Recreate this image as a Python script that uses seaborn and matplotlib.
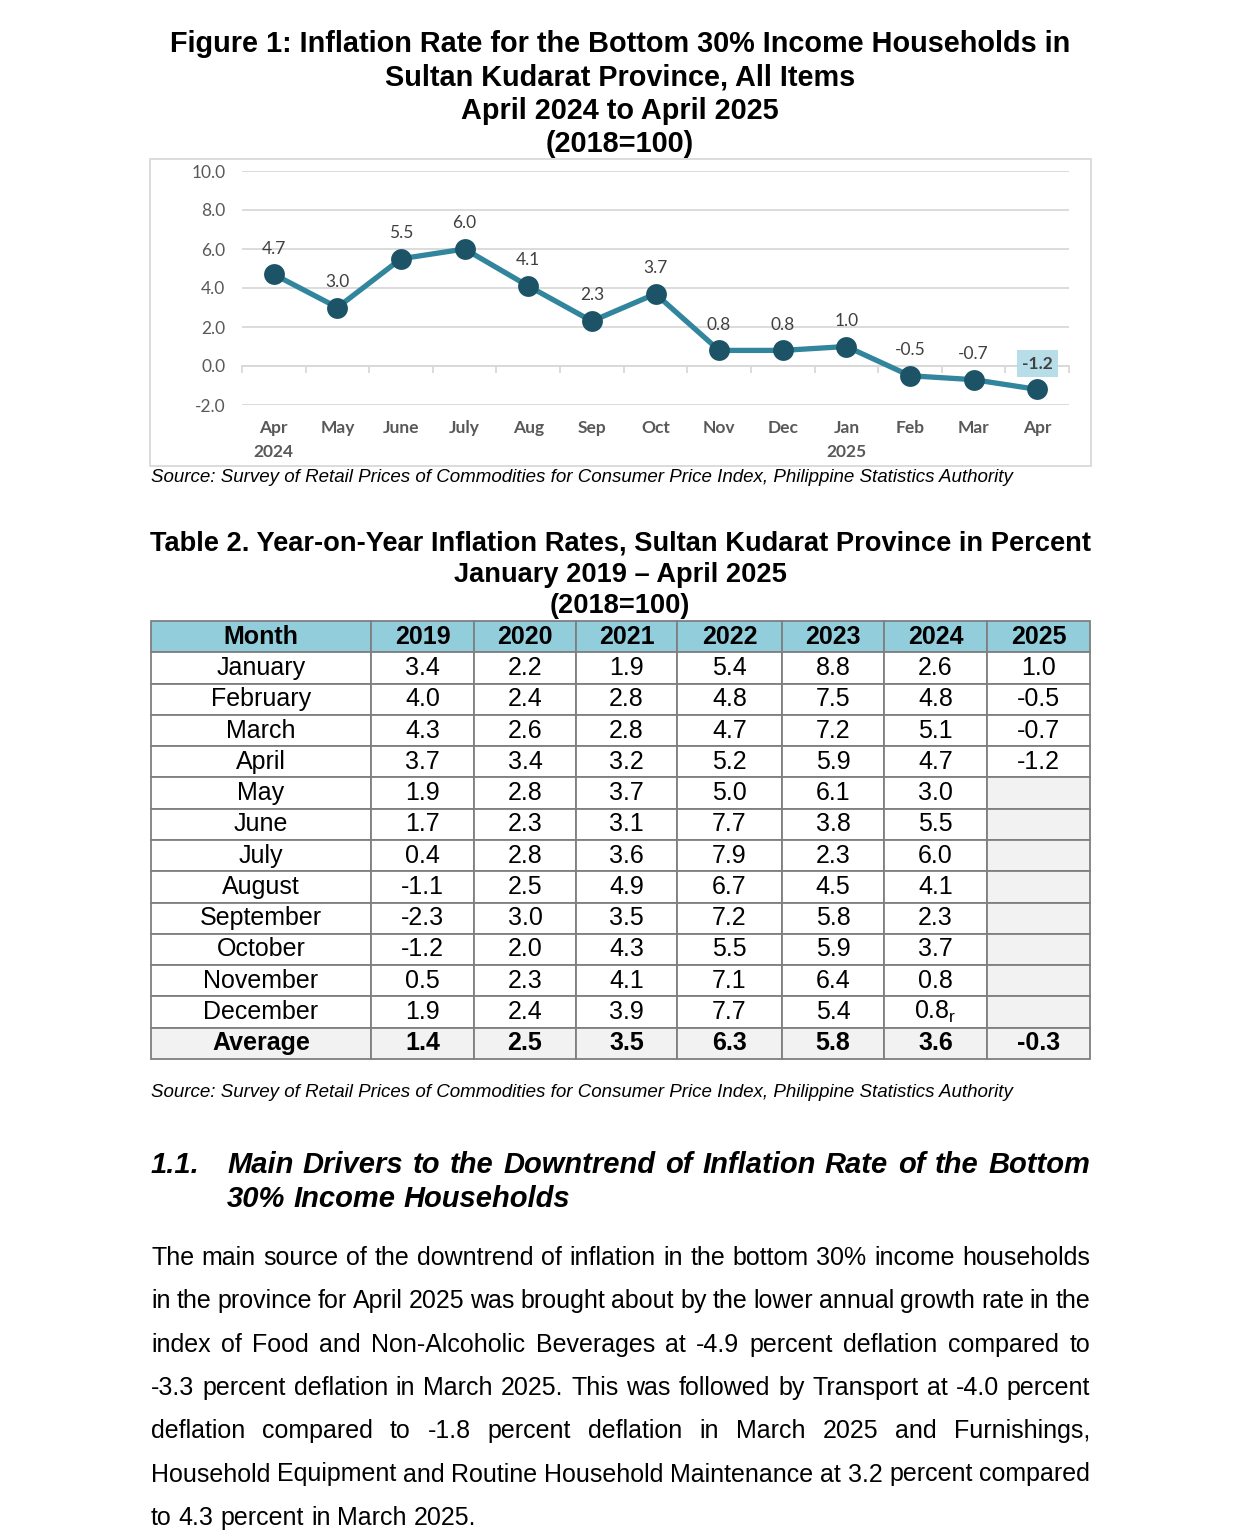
import numpy as np
import pandas as pd
import matplotlib
matplotlib.use("Agg")
import matplotlib.pyplot as plt
from matplotlib.patches import Rectangle
from matplotlib.font_manager import FontProperties
import seaborn as sns

# ---------------- data ----------------
chart_labels = ["Apr\n2024", "May", "June", "July", "Aug", "Sep", "Oct",
                "Nov", "Dec", "Jan\n2025", "Feb", "Mar", "Apr"]
chart_rates = [4.7, 3.0, 5.5, 6.0, 4.1, 2.3, 3.7, 0.8, 0.8, 1.0, -0.5, -0.7, -1.2]
y_ticks = [-2.0, 0.0, 2.0, 4.0, 6.0, 8.0, 10.0]

table_months = ["January", "February", "March", "April", "May", "June", "July",
                "August", "September", "October", "November", "December"]
table_years = ["2019", "2020", "2021", "2022", "2023", "2024", "2025"]
y2019 = [3.4, 4.0, 4.3, 3.7, 1.9, 1.7, 0.4, -1.1, -2.3, -1.2, 0.5, 1.9]
y2020 = [2.2, 2.4, 2.6, 3.4, 2.8, 2.3, 2.8, 2.5, 3.0, 2.0, 2.3, 2.4]
y2021 = [1.9, 2.8, 2.8, 3.2, 3.7, 3.1, 3.6, 4.9, 3.5, 4.3, 4.1, 3.9]
y2022 = [5.4, 4.8, 4.7, 5.2, 5.0, 7.7, 7.9, 6.7, 7.2, 5.5, 7.1, 7.7]
y2023 = [8.8, 7.5, 7.2, 5.9, 6.1, 3.8, 2.3, 4.5, 5.8, 5.9, 6.4, 5.4]
y2024 = [2.6, 4.8, 5.1, 4.7, 3.0, 5.5, 6.0, 4.1, 2.3, 3.7, 0.8, 0.8]
y2025 = [1.0, -0.5, -0.7, -1.2]
averages = [1.4, 2.5, 3.5, 6.3, 5.8, 3.6, -0.3]
revised = {("December", "2024")}

title_lines = ["Figure 1: Inflation Rate for the Bottom 30% Income Households in",
               "Sultan Kudarat Province, All Items",
               "April 2024 to April 2025",
               "(2018=100)"]
table_title_lines = ["Table 2. Year-on-Year Inflation Rates, Sultan Kudarat Province in Percent",
                     "January 2019 \u2013 April 2025",
                     "(2018=100)"]
source_text = ("Source: Survey of Retail Prices of Commodities for Consumer Price Index, "
               "Philippine Statistics Authority")
heading_num = "1.1."
heading_lines = ["Main Drivers to the Downtrend of Inflation Rate of the Bottom",
                 "30% Income Households"]
para_lines = [
    "The main source of the downtrend of inflation in the bottom 30% income households",
    "in the province for April 2025 was brought about by the lower annual growth rate in the",
    "index of Food and Non-Alcoholic Beverages at -4.9 percent deflation compared to",
    "-3.3 percent deflation in March 2025. This was followed by Transport at  -4.0 percent",
    "deflation compared to -1.8 percent deflation in March 2025 and Furnishings,",
    "Household Equipment and Routine Household Maintenance  at 3.2 percent compared",
    "to 4.3 percent in March 2025.",
]

# ---------------- setup ----------------
sns.set_theme(style="white")
plt.rcParams["font.family"] = ["Liberation Sans", "DejaVu Sans"]

W, H = 1241, 1536
fig = plt.figure(figsize=(W / 100, H / 100), dpi=100)
fig.patch.set_facecolor("white")


def fx(x):
    return x / W


def fy(y):
    return 1 - y / H


DOC = "Liberation Sans"
CHART_FONT = ["Lato", "DejaVu Sans"]

# ---------------- titles ----------------
for i, line in enumerate(title_lines):
    fig.text(fx(620), fy(52 + i * 33.4), line, ha="center", va="baseline",
             fontsize=20.8, fontweight="bold", family=DOC, color="black")

# chart frame
fig.add_artist(Rectangle((fx(150), fy(466)), (1091 - 150) / W, (466 - 159) / H,
                         transform=fig.transFigure, fill=False,
                         ec="#D9D9D9", lw=1.3))

# ---------------- line chart ----------------
ax = fig.add_axes([fx(242), fy(405), (1069 - 242) / W, (405 - 171) / H])
ax.set_facecolor("white")
xpos = np.arange(len(chart_rates))
line_color = "#31859C"
marker_color = "#1D5366"
sns.lineplot(x=xpos, y=chart_rates, ax=ax, color=line_color, linewidth=3.8,
             marker="o", markersize=15, markerfacecolor=marker_color,
             markeredgecolor=marker_color, markeredgewidth=0, zorder=4)
ax.set_xlim(-0.5, len(chart_rates) - 0.5)
ax.set_ylim(min(y_ticks), max(y_ticks))
ax.set_yticks(y_ticks)
ax.set_yticklabels([f"{v:.1f}" for v in y_ticks], family=CHART_FONT,
                   fontsize=12.5, color="#595959")
ax.set_xticks(xpos)
ax.set_xticklabels(chart_labels, family=CHART_FONT, fontsize=12.5,
                   fontweight="bold", color="#595959", linespacing=1.6)
ax.tick_params(axis="x", length=0, pad=11)
ax.tick_params(axis="y", length=0, pad=12)
for s in ax.spines.values():
    s.set_visible(False)
ax.grid(axis="y", color="#D9D9D9", lw=1.3)
ax.grid(axis="x", visible=False)
ax.set_xlabel("")
ax.set_ylabel("")

zero_frac = (0 - min(y_ticks)) / (max(y_ticks) - min(y_ticks))
sec = ax.secondary_xaxis(zero_frac)
sec.set_xticks(np.arange(-0.5, len(chart_rates), 1.0))
sec.set_xticklabels([])
sec.tick_params(axis="x", length=5, width=1.3, color="#D9D9D9", direction="out")
for s in sec.spines.values():
    s.set_color("#D9D9D9")
    s.set_linewidth(1.3)

for i, v in enumerate(chart_rates):
    last = i == len(chart_rates) - 1
    ax.annotate(f"{v:.1f}", (i, v), xytext=(0, 18.5), textcoords="offset points",
                ha="center", va="center", fontsize=12.5, family=CHART_FONT,
                color="#404040", fontweight="bold" if last else "normal",
                bbox=dict(boxstyle="square,pad=0.3", fc="#B7DEE8", ec="none")
                if last else None, zorder=5)

# sources
fig.text(fx(151), fy(482), source_text, ha="left", va="baseline", fontsize=13.5,
         style="italic", family=DOC, color="black")
fig.text(fx(151), fy(1097), source_text, ha="left", va="baseline", fontsize=13.5,
         style="italic", family=DOC, color="black")

# ---------------- table ----------------
for i, line in enumerate(table_title_lines):
    fig.text(fx(620), fy(551 + i * 31), line, ha="center", va="baseline",
             fontsize=19.6, fontweight="bold", family=DOC, color="black")

series = [y2019, y2020, y2021, y2022, y2023, y2024, y2025]
cell_text = []
for r, m in enumerate(table_months):
    row = [m]
    for yr, vals in zip(table_years, series):
        if r < len(vals):
            txt = f"{vals[r]:.1f}"
            if (m, yr) in revised:
                txt += r"$_\mathregular{r}$"
        else:
            txt = ""
        row.append(txt)
    cell_text.append(row)
cell_text.append(["Average"] + [f"{a:.1f}" for a in averages])

col_px = [220, 103, 102, 101, 105, 102, 103, 103]
tax = fig.add_axes([fx(151), fy(1059), (1090 - 151) / W, (1059 - 621) / H])
tax.axis("off")
tbl = tax.table(cellText=cell_text, colLabels=["Month"] + table_years,
                colWidths=[c / sum(col_px) for c in col_px],
                cellLoc="center", bbox=[0, 0, 1, 1])
tbl.auto_set_font_size(False)
n_rows = len(cell_text)
for (r, c), cell in tbl.get_celld().items():
    cell.set_edgecolor("#7F7F7F")
    cell.set_linewidth(1.3)
    t = cell.get_text()
    t.set_fontsize(18)
    t.set_family(DOC)
    t.set_color("black")
    if r == 0:
        cell.set_facecolor("#92CDDC")
        t.set_fontweight("bold")
    elif r == n_rows:
        cell.set_facecolor("#F2F2F2")
        t.set_fontweight("bold")
    elif c == len(col_px) - 1 and cell_text[r - 1][c] == "":
        cell.set_facecolor("#F2F2F2")
    else:
        cell.set_facecolor("white")

# ---------------- heading & paragraph ----------------
renderer = fig.canvas.get_renderer()


def justified(line, x0, x1, y, fp, justify=True):
    words = line.split()
    arts = [fig.text(0, fy(y), w, ha="left", va="baseline", fontproperties=fp,
                     color="black") for w in words]
    widths = [a.get_window_extent(renderer).width for a in arts]
    if justify and len(words) > 1:
        gap = (x1 - x0 - sum(widths)) / (len(words) - 1)
    else:
        sp = fig.text(0, 0, "a a", fontproperties=fp)
        sp2 = fig.text(0, 0, "aa", fontproperties=fp)
        gap = sp.get_window_extent(renderer).width - sp2.get_window_extent(renderer).width
        sp.remove()
        sp2.remove()
    x = x0
    for a, w in zip(arts, widths):
        a.set_x(fx(x))
        x += w + gap


fp_head = FontProperties(family=DOC, size=21, weight="bold", style="italic")
fig.text(fx(151), fy(1173), heading_num, ha="left", va="baseline",
         fontproperties=fp_head, color="black")
justified(heading_lines[0], 227, 1090, 1173, fp_head, True)
justified(heading_lines[1], 227, 1090, 1207, fp_head, False)

fp_para = FontProperties(family=DOC, size=18)
for i, line in enumerate(para_lines):
    justified(line, 151, 1090, 1265 + i * 43.3, fp_para, i < len(para_lines) - 1)

fig.savefig("out.png", dpi=100, facecolor="white")
